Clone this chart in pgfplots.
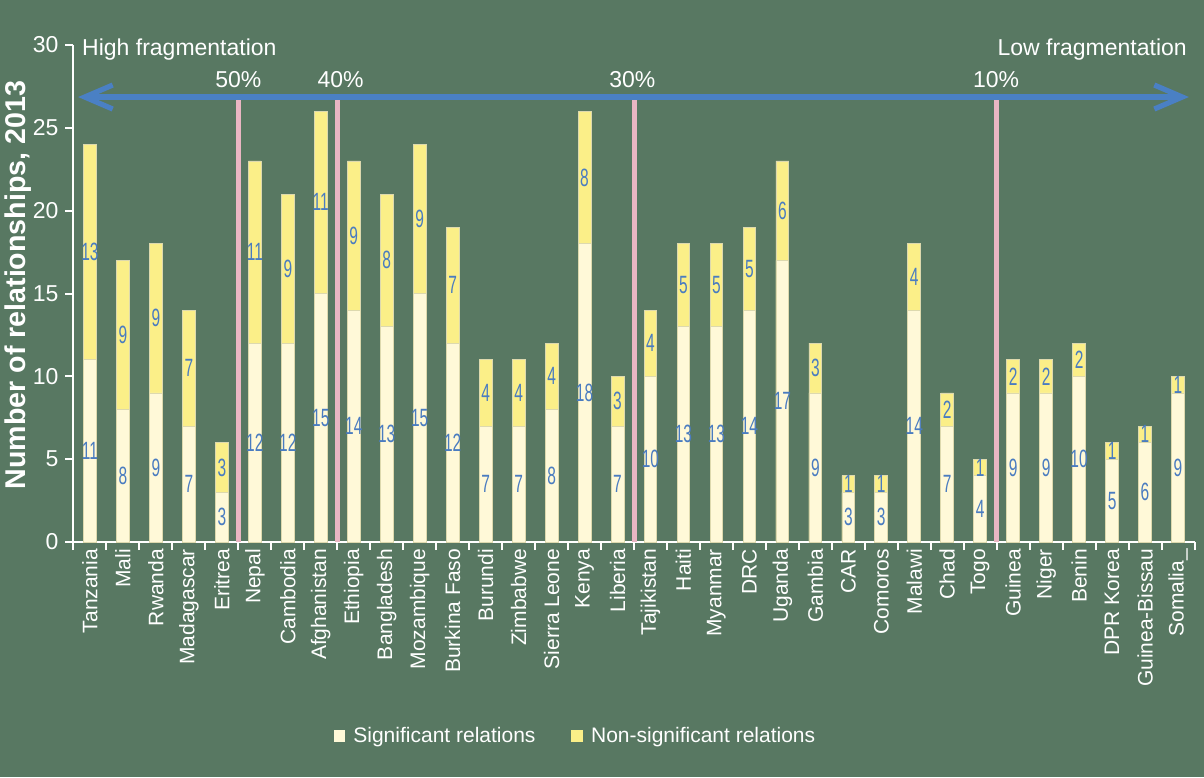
\documentclass[border=0pt]{standalone}
\usepackage{fontspec}
\setmainfont{Liberation Sans}
\usepackage{pgfplots}
\usepackage{pgfplotstable}
\pgfplotsset{compat=1.18}
\usetikzlibrary{arrows.meta}

\definecolor{bg}{HTML}{587862}
\definecolor{cream}{HTML}{FFF9D8}
\definecolor{ylw}{HTML}{FBEF88}
\definecolor{edge}{HTML}{DDD9AE}
\definecolor{lblblue}{HTML}{4A7CC0}
\definecolor{arrblue}{HTML}{4A80C4}
\definecolor{pinkline}{HTML}{EAB6C3}

\pgfplotsset{sqlegend/.style={legend image code/.code={\fill[##1, draw=none] (0pt,-2.6pt) rectangle (5.8pt,3.2pt);}}}

% x: position, s: significant, n: non-significant
\pgfplotstableread{
x s n
0 11 13
1 8 9
2 9 9
3 7 7
4 3 3
5 12 11
6 12 9
7 15 11
8 14 9
9 13 8
10 15 9
11 12 7
12 7 4
13 7 4
14 8 4
15 18 8
16 7 3
17 10 4
18 13 5
19 13 5
20 14 5
21 17 6
22 9 3
23 3 1
24 3 1
25 14 4
26 7 2
27 4 1
28 9 2
29 9 2
30 10 2
31 5 1
32 6 1
33 9 1
}\data

\begin{document}
\begin{tikzpicture}
\path[use as bounding box, fill=bg] (-36.75pt,-117.5pt) rectangle (565.25pt,271pt);
\begin{axis}[
    at={(0,0)}, anchor=south west,
    scale only axis, width=560.5pt, height=248.5pt,
    xmin=-0.5, xmax=33.5, ymin=0, ymax=30,
    axis x line*=bottom, axis y line*=left,
    axis line style={white, line width=1pt, -},
    tick align=outside, major tick length=4pt,
    tick style={white, line width=1pt},
    xtick={-0.5,0.5,...,33.5}, xticklabels=\empty,
    extra x ticks={0,...,33},
    extra x tick labels={Tanzania,Mali,Rwanda,Madagascar,Eritrea,Nepal,Cambodia,Afghanistan,Ethiopia,Bangladesh,Mozambique,Burkina Faso,Burundi,Zimbabwe,Sierra Leone,Kenya,Liberia,Tajikistan,Haiti,Myanmar,DRC,Uganda,Gambia,CAR,Comoros,Malawi,Chad,Togo,Guinea,Niger,Benin,DPR Korea,Guinea-Bissau,Somalia\_},
    extra x tick style={major tick length=0pt,
        tick label style={rotate=90, anchor=east, text=white, font=\fontsize{10.5}{12}\selectfont}},
    ytick={0,5,...,30},
    y tick label style={text=white, font=\fontsize{11.5}{13}\selectfont},
    /pgf/number format/assume math mode=true,
    clip=false,
    legend style={at={(0.4487,-0.392)}, anchor=center, draw=none, fill=none,
        text=white, font=\fontsize{10.5}{12}\selectfont, legend columns=2,
        /tikz/every odd column/.append style={column sep=2pt},
        /tikz/every even column/.append style={column sep=16pt}},
]
% bars: total in yellow, significant part in cream on top
\addplot[ybar, bar width=6.4pt, bar shift=0pt, fill=ylw, draw=edge, line width=0.4pt, forget plot]
    table[x=x, y expr=\thisrow{s}+\thisrow{n}] {\data};
\addplot[ybar, bar width=6.4pt, bar shift=0pt, fill=cream, draw=edge, line width=0.4pt, forget plot]
    table[x=x, y=s] {\data};

% value labels in the middle of each segment
\addplot[draw=none, mark=none, forget plot, nodes near coords, point meta=explicit,
    nodes near coords align={center},
    every node near coord/.append style={text=lblblue, font=\fontsize{12.5}{13}\selectfont, xscale=0.62, inner sep=0pt}]
    table[x=x, y expr=\thisrow{s}/2, meta=s] {\data};
\addplot[draw=none, mark=none, forget plot, nodes near coords, point meta=explicit,
    nodes near coords align={center},
    every node near coord/.append style={text=lblblue, font=\fontsize{12.5}{13}\selectfont, xscale=0.62, inner sep=0pt}]
    table[x=x, y expr=\thisrow{s}+\thisrow{n}/2, meta=n] {\data};

\addlegendimage{sqlegend, fill=cream}
\addlegendentry{Significant relations}
\addlegendimage{sqlegend, fill=ylw}
\addlegendentry{Non-significant relations}

% fragmentation thresholds
\foreach \p in {4.5,7.5,16.5,27.5}{
  \edef\tmp{\noexpand\draw[pinkline, line width=2.5pt] (axis cs:\p,0) -- (axis cs:\p,26.7);}
  \tmp
}
\draw[arrblue, line width=2.6pt, {Straight Barb[length=14pt,width=12pt]}-{Straight Barb[length=14pt,width=12pt]}]
    (axis cs:-0.36,26.86) -- (axis cs:33.33,26.86);

\node[anchor=west, text=white, font=\fontsize{11.5}{13}\selectfont] at (axis cs:-0.45,29.7) {High fragmentation};
\node[anchor=east, text=white, font=\fontsize{11.5}{13}\selectfont] at (axis cs:33.48,29.7) {Low fragmentation};
\node[anchor=base, text=white, font=\fontsize{11.5}{13}\selectfont] at (axis cs:4.5,27.46) {50\%};
\node[anchor=base, text=white, font=\fontsize{11.5}{13}\selectfont] at (axis cs:7.6,27.46) {40\%};
\node[anchor=base, text=white, font=\fontsize{11.5}{13}\selectfont] at (axis cs:16.45,27.46) {30\%};
\node[anchor=base, text=white, font=\fontsize{11.5}{13}\selectfont] at (axis cs:27.48,27.46) {10\%};

\node[rotate=90, text=white, font=\bfseries\fontsize{14.3}{16}\selectfont]
    at ([xshift=-27.75pt]rel axis cs:0,0.517) {Number of relationships, 2013};
\end{axis}
\end{tikzpicture}
\end{document}
